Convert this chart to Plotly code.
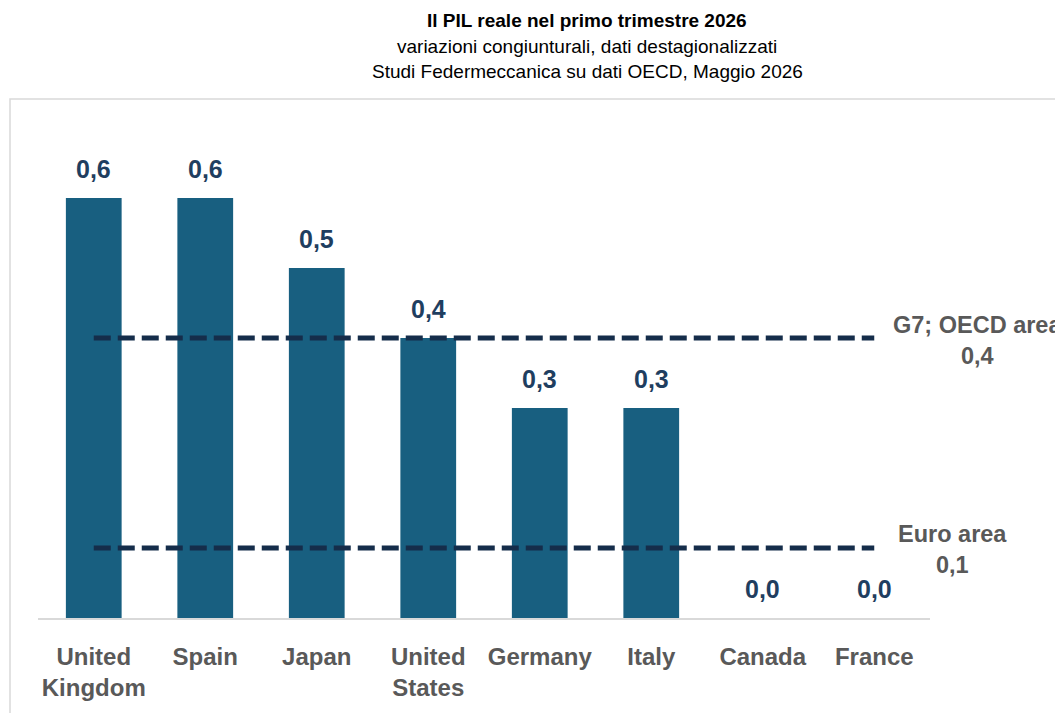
import plotly.graph_objects as go

countries = ["United<br>Kingdom", "Spain", "Japan", "United<br>States", "Germany", "Italy", "Canada", "France"]
gdp_q1 = [0.6, 0.6, 0.5, 0.4, 0.3, 0.3, 0.0, 0.0]
g7_oecd = 0.4
euro_area = 0.1

title_lines = ["<b>Il PIL reale nel primo trimestre 2026</b>",
               "variazioni congiunturali, dati destagionalizzati",
               "Studi Federmeccanica su dati OECD, Maggio 2026"]

FONT = "Liberation Sans, Arial, sans-serif"
BAR = "#185f80"
LAB = "#1f3e60"
DASH = "#152d4a"
GREY = "#595959"

# page has 8px body margin; plot area in figure px coords
L, T, R, B = 30, 120, 922, 610
W = R - L
H = B - T


def fmt(v):
    return f"{v:.1f}".replace(".", ",")


fig = go.Figure()
fig.add_trace(go.Bar(
    x=countries, y=gdp_q1, marker=dict(color=BAR, line=dict(width=0)),
    showlegend=False, hoverinfo="skip"))

for val in (g7_oecd, euro_area):
    fig.add_trace(go.Scatter(
        x=[countries[0], countries[-1]], y=[val, val], mode="lines",
        line=dict(color=DASH, width=5, dash="17px,7px"), showlegend=False, hoverinfo="skip"))

for c, v in zip(countries, gdp_q1):
    fig.add_annotation(x=c, y=v, text=f"<b>{fmt(v)}</b>", showarrow=False,
                       yanchor="middle", yshift=29,
                       font=dict(family=FONT, size=25, color=LAB))

fig.add_annotation(xref="paper", yref="y", x=(978 - 8 - L) / W, y=g7_oecd - 0.004,
                   xanchor="center", yanchor="middle",
                   text=f"<b>G7; OECD area<br>{fmt(g7_oecd)}</b>", showarrow=False,
                   font=dict(family=FONT, size=23.5, color=GREY), align="center")
fig.add_annotation(xref="paper", yref="y", x=(952 - 8 - L) / W, y=euro_area - 0.002,
                   xanchor="center", yanchor="middle",
                   text=f"<b>Euro area<br>{fmt(euro_area)}</b>", showarrow=False,
                   font=dict(family=FONT, size=23.5, color=GREY), align="center")

title_y = [20, 46, 72]
for t, py in zip(title_lines, title_y):
    fig.add_annotation(xref="paper", yref="paper", x=(587 - 8 - L) / W, y=(B - (py - 8)) / H,
                       xanchor="center", text=t, showarrow=False, yanchor="middle",
                       font=dict(family=FONT, size=19, color="#000000"))

fig.add_shape(type="rect", xref="paper", yref="paper",
              x0=(10 - 8 - L) / W, x1=1.3, y0=-0.4, y1=(B - (99 - 8)) / H,
              line=dict(color="#d9d9d9", width=1.5), fillcolor="rgba(0,0,0,0)", layer="below")

fig.update_layout(
    width=1063, height=713, margin=dict(l=L, r=1063 - R, t=T, b=713 - B),
    paper_bgcolor="white", plot_bgcolor="white", separators=",.",
    bargap=0.5, font=dict(family=FONT),
    xaxis=dict(showgrid=False, showline=True, linecolor="#d9d9d9", linewidth=1.5,
               ticks="", tickfont=dict(family=FONT, size=24, color=GREY, weight="bold"),
               ticklabelstandoff=16),
    yaxis=dict(range=[0, 0.7], visible=False, showgrid=False),
)

fig.write_html("out.html")
